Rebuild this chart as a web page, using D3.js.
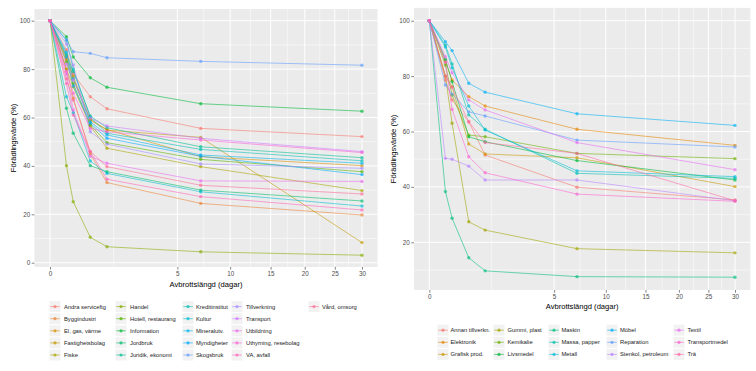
<!DOCTYPE html>
<html><head><meta charset="utf-8">
<script src="https://cdn.jsdelivr.net/npm/d3@7"></script>
<style>
body{margin:0;background:#fff}
text{font-family:"Liberation Sans",Arial,Helvetica,sans-serif}
</style>
</head><body>
<svg id="chart" width="756" height="371"></svg>
<script>
// ---- data ----
const days = [0, 1/12, 1/6, 0.5, 1, 7, 30];
const xTicks = [0, 5, 10, 15, 20, 25, 30];
const leftYTicks = [0, 20, 40, 60, 80, 100];
const rightYTicks = [20, 40, 60, 80, 100];
const xTitle = "Avbrottslängd (dagar)";
const yTitle = "Förädlingsvärde (%)";

const leftNames = ["Andra serviceftg","Byggindustri","El, gas, värme","Fastighetsbolag","Fiske",
  "Handel","Hotell, restaurang","Information","Jordbruk","Juridik, ekonomi",
  "Kreditinstitut","Kultur","Mineralutv.","Myndigheter","Skogsbruk",
  "Tillverkning","Transport","Utbildning","Uthyrning, resebolag","VA, avfall","Vård, omsorg"];
const leftValues = [
  [100, 88, 78, 68.6, 63.6, 55.5, 52.1],
  [100, 80, 68, 45, 33.1, 24.5, 19.7],
  [100, 84, 76, 58.8, 55.0, 43.8, 40.1],
  [100, 85, 77, 59.3, 54.8, 51.8, 8.3],
  [100, 80, 72.7, 56.5, 47.3, 39.7, 29.8],
  [100, 40.1, 25.2, 10.5, 6.6, 4.5, 3.1],
  [100, 83, 74, 57.0, 49.6, 42.7, 37.6],
  [100, 93.4, 85, 76.4, 72.5, 65.7, 62.6],
  [100, 63.8, 53.5, 40.1, 37.6, 30.0, 25.5],
  [100, 86, 79, 60.6, 55.8, 47.9, 43.4],
  [100, 92.0, 80, 60.1, 53.5, 46.8, 42.1],
  [100, 68.6, 62, 42, 36.9, 29.3, 23.4],
  [100, 87, 76, 58.3, 52.8, 44.5, 41.1],
  [100, 85, 73, 57.6, 51.4, 44.0, 36.4],
  [100, 92, 87.2, 86.5, 84.7, 83.2, 81.6],
  [100, 90.4, 81.7, 54.1, 49.0, 40.8, 39.0],
  [100, 82, 75.5, 59.8, 56.5, 51.4, 45.9],
  [100, 78, 63.1, 44, 41.1, 33.8, 33.6],
  [100, 79, 70, 55.5, 54.1, 50.7, 45.5],
  [100, 74, 61.0, 45.9, 34.5, 27.3, 21.8],
  [100, 76, 67.2, 46, 39.7, 32.0, 28.4]
];

const rightNames = ["Annan tillverkn.","Elektronik","Grafisk prod.","Gummi, plast","Kemikalie",
  "Livsmedel","Maskin","Massa, papper","Metall","Möbel","Reparation","Stenkol, petroleum",
  "Textil","Transportmedel","Trä"];
const rightValues = [
  [100, 78.6, 71.4, 63.5, 51.5, 39.9, 35.3],
  [100, 85.2, 78.6, 72.6, 69.2, 60.8, 55.0],
  [100, 80, 76.2, 55.5, 51.9, 50.5, 40.1],
  [100, 80, 63.0, 27.4, 24.4, 17.7, 16.2],
  [100, 84, 73.2, 58.7, 58.1, 52.1, 50.2],
  [100, 86, 78.0, 58.1, 56.3, 49.5, 42.5],
  [100, 38.3, 28.7, 14.4, 9.7, 7.6, 7.4],
  [100, 91.2, 84.4, 66.0, 60.8, 44.9, 43.1],
  [100, 90.5, 83.0, 69.2, 60.5, 45.8, 43.7],
  [100, 92.4, 89.2, 77.4, 74.2, 66.4, 62.2],
  [100, 76.8, 73.5, 67.1, 65.6, 56.9, 54.4],
  [100, 50.3, 50.0, 47.5, 42.5, 42.5, 35.0],
  [100, 87.0, 81.2, 71.4, 67.8, 56.0, 46.2],
  [100, 85.0, 68.0, 50.9, 45.1, 37.4, 34.8],
  [100, 80.0, 76.0, 63.5, 56.0, 52.1, 35.0]
];

// ---- ggplot-style hue palette (polar LUV) ----
function hcl2hex(h, c, l) {
  const hr = h * Math.PI / 180;
  const u = c * Math.cos(hr), v = c * Math.sin(hr);
  const Xn = 95.047, Yn = 100, Zn = 108.883;
  const den = Xn + 15 * Yn + 3 * Zn;
  const un = 4 * Xn / den, vn = 9 * Yn / den;
  const Y = l > 8 ? Yn * Math.pow((l + 16) / 116, 3) : Yn * l / 903.3;
  const up = u / (13 * l) + un, vp = v / (13 * l) + vn;
  const X = Y * 9 * up / (4 * vp), Z = Y * (12 - 3 * up - 20 * vp) / (4 * vp);
  const x = X / 100, y = Y / 100, z = Z / 100;
  const r = 3.2404542 * x - 1.5371385 * y - 0.4985314 * z;
  const g = -0.9692660 * x + 1.8760108 * y + 0.0415560 * z;
  const b = 0.0556434 * x - 0.2040259 * y + 1.0572252 * z;
  const gam = t => { t = t <= 0.0031308 ? 12.92 * t : 1.055 * Math.pow(t, 1 / 2.4) - 0.055;
    return Math.round(Math.max(0, Math.min(1, t)) * 255); };
  return d3.rgb(gam(r), gam(g), gam(b)).formatHex();
}
function huePal(n) {
  const out = [];
  for (let i = 0; i < n; i++) out.push(hcl2hex((15 + 360 * i / n) % 360, 100, 65));
  return out;
}

const svg = d3.select("#chart");

function drawPanel(cfg) {
  const g = svg.append("g");
  const x = d3.scaleSqrt().domain([0, 30]).range([cfg.x0, cfg.x30]);
  const y = d3.scaleLinear().domain([0, 100]).range([cfg.y0, cfg.y100]);
  const all = cfg.values.flat();
  const vmin = d3.min(all), vmax = d3.max(all), pad = (vmax - vmin) * 0.05;
  const top = y(vmax + pad), bottom = y(vmin - pad);
  const xpad = (cfg.x30 - cfg.x0) * 0.05;
  const left = cfg.x0 - xpad, right = cfg.x30 + xpad;
  const colors = huePal(cfg.names.length);

  g.append("rect").attr("x", left).attr("y", top).attr("width", right - left)
    .attr("height", bottom - top).attr("fill", "#EBEBEB");

  // minor grid (y)
  const yt = cfg.yTicks, step = yt[1] - yt[0];
  const yMinor = [];
  for (let v = yt[0] - step / 2; v <= yt[yt.length - 1] + step; v += step) {
    if (y(v) < bottom && y(v) > top) yMinor.push(v);
  }
  g.selectAll(null).data(yMinor).enter().append("line")
    .attr("x1", left).attr("x2", right).attr("y1", d => y(d)).attr("y2", d => y(d))
    .attr("stroke", "#fff").attr("stroke-width", 0.5);
  // minor grid (x) - midpoints in sqrt space
  const xMinor = [];
  for (let i = 0; i < xTicks.length - 1; i++) {
    const m = (Math.sqrt(xTicks[i]) + Math.sqrt(xTicks[i + 1])) / 2;
    xMinor.push(m * m);
  }
  g.selectAll(null).data(xMinor).enter().append("line")
    .attr("y1", top).attr("y2", bottom).attr("x1", d => x(d)).attr("x2", d => x(d))
    .attr("stroke", "#fff").attr("stroke-width", 0.5);
  // major grid
  g.selectAll(null).data(yt).enter().append("line")
    .attr("x1", left).attr("x2", right).attr("y1", d => y(d)).attr("y2", d => y(d))
    .attr("stroke", "#fff").attr("stroke-width", 1);
  g.selectAll(null).data(xTicks).enter().append("line")
    .attr("y1", top).attr("y2", bottom).attr("x1", d => x(d)).attr("x2", d => x(d))
    .attr("stroke", "#fff").attr("stroke-width", 1);

  // axes
  const yAxis = d3.axisLeft(y).tickValues(yt).tickSize(2.7).tickPadding(1.5);
  const ga = g.append("g").attr("transform", `translate(${left},0)`).call(yAxis);
  const xAxis = d3.axisBottom(x).tickValues(xTicks).tickSize(2.7).tickPadding(1.5);
  const gb = g.append("g").attr("transform", `translate(0,${bottom})`).call(xAxis);
  [ga, gb].forEach(a => {
    a.select(".domain").remove();
    a.selectAll(".tick line").attr("stroke", "#333").attr("stroke-width", 0.6);
    a.selectAll(".tick text").attr("fill", "#4D4D4D").style("font-size", "6.3px")
      .style("font-family", '"Liberation Sans",Arial,sans-serif');
  });

  // titles
  g.append("text").attr("x", (left + right) / 2).attr("y", cfg.xTitleY)
    .attr("text-anchor", "middle").style("font-size", "7.6px").attr("fill", "#000").text(xTitle);
  g.append("text").attr("transform", `translate(${cfg.yTitleX},${(top + bottom) / 2}) rotate(-90)`)
    .attr("text-anchor", "middle").style("font-size", "7.6px").attr("fill", "#000").text(yTitle);

  // lines & points
  const line = d3.line().x((d, i) => x(days[i])).y(d => y(d));
  const series = g.append("g");
  cfg.values.forEach((vals, k) => {
    series.append("path").datum(vals).attr("d", line).attr("fill", "none")
      .attr("stroke", colors[k]).attr("stroke-width", 0.85).attr("stroke-opacity", 0.68);
  });
  cfg.values.forEach((vals, k) => {
    series.selectAll(null).data(vals).enter().append("circle")
      .attr("cx", (d, i) => x(days[i])).attr("cy", d => y(d)).attr("r", 1.7)
      .attr("fill", colors[k]).attr("fill-opacity", 0.65);
  });

  // legend
  const lg = g.append("g");
  cfg.names.forEach((name, k) => {
    const col = Math.floor(k / cfg.rows), row = k % cfg.rows;
    const kx = cfg.keyX[col], ty = cfg.rowY0 + row * cfg.rowStep;
    lg.append("rect").attr("x", kx - 5.5).attr("y", ty - 5.5).attr("width", 11).attr("height", 11)
      .attr("fill", "#F2F2F2");
    lg.append("line").attr("x1", kx - 4.8).attr("x2", kx + 4.8).attr("y1", ty).attr("y2", ty)
      .attr("stroke", colors[k]).attr("stroke-width", 0.85).attr("stroke-opacity", 0.7);
    lg.append("circle").attr("cx", kx).attr("cy", ty).attr("r", 1.6)
      .attr("fill", colors[k]).attr("fill-opacity", 0.7);
    lg.append("text").attr("x", cfg.textX[col]).attr("y", ty).attr("dy", "0.35em")
      .style("font-size", "5.8px").attr("fill", "#1a1a1a").text(name);
  });
}

drawPanel({
  names: leftNames, values: leftValues, yTicks: leftYTicks,
  x0: 50, x30: 362, y0: 262.7, y100: 20.7,
  xTitleY: 287, yTitleX: 16,
  rows: 5, rowY0: 306.6, rowStep: 12.1,
  keyX: [55, 121, 188, 237, 314], textX: [64, 130, 196, 246, 322]
});
drawPanel({
  names: rightNames, values: rightValues, yTicks: rightYTicks,
  x0: 429.3, x30: 735, y0: 297.7, y100: 20.7,
  xTitleY: 309, yTitleX: 396,
  rows: 3, rowY0: 330.2, rowStep: 12.1,
  keyX: [443, 499, 554, 612, 679], textX: [450.5, 507.5, 561.5, 620, 687.5]
});
</script>
</body></html>
